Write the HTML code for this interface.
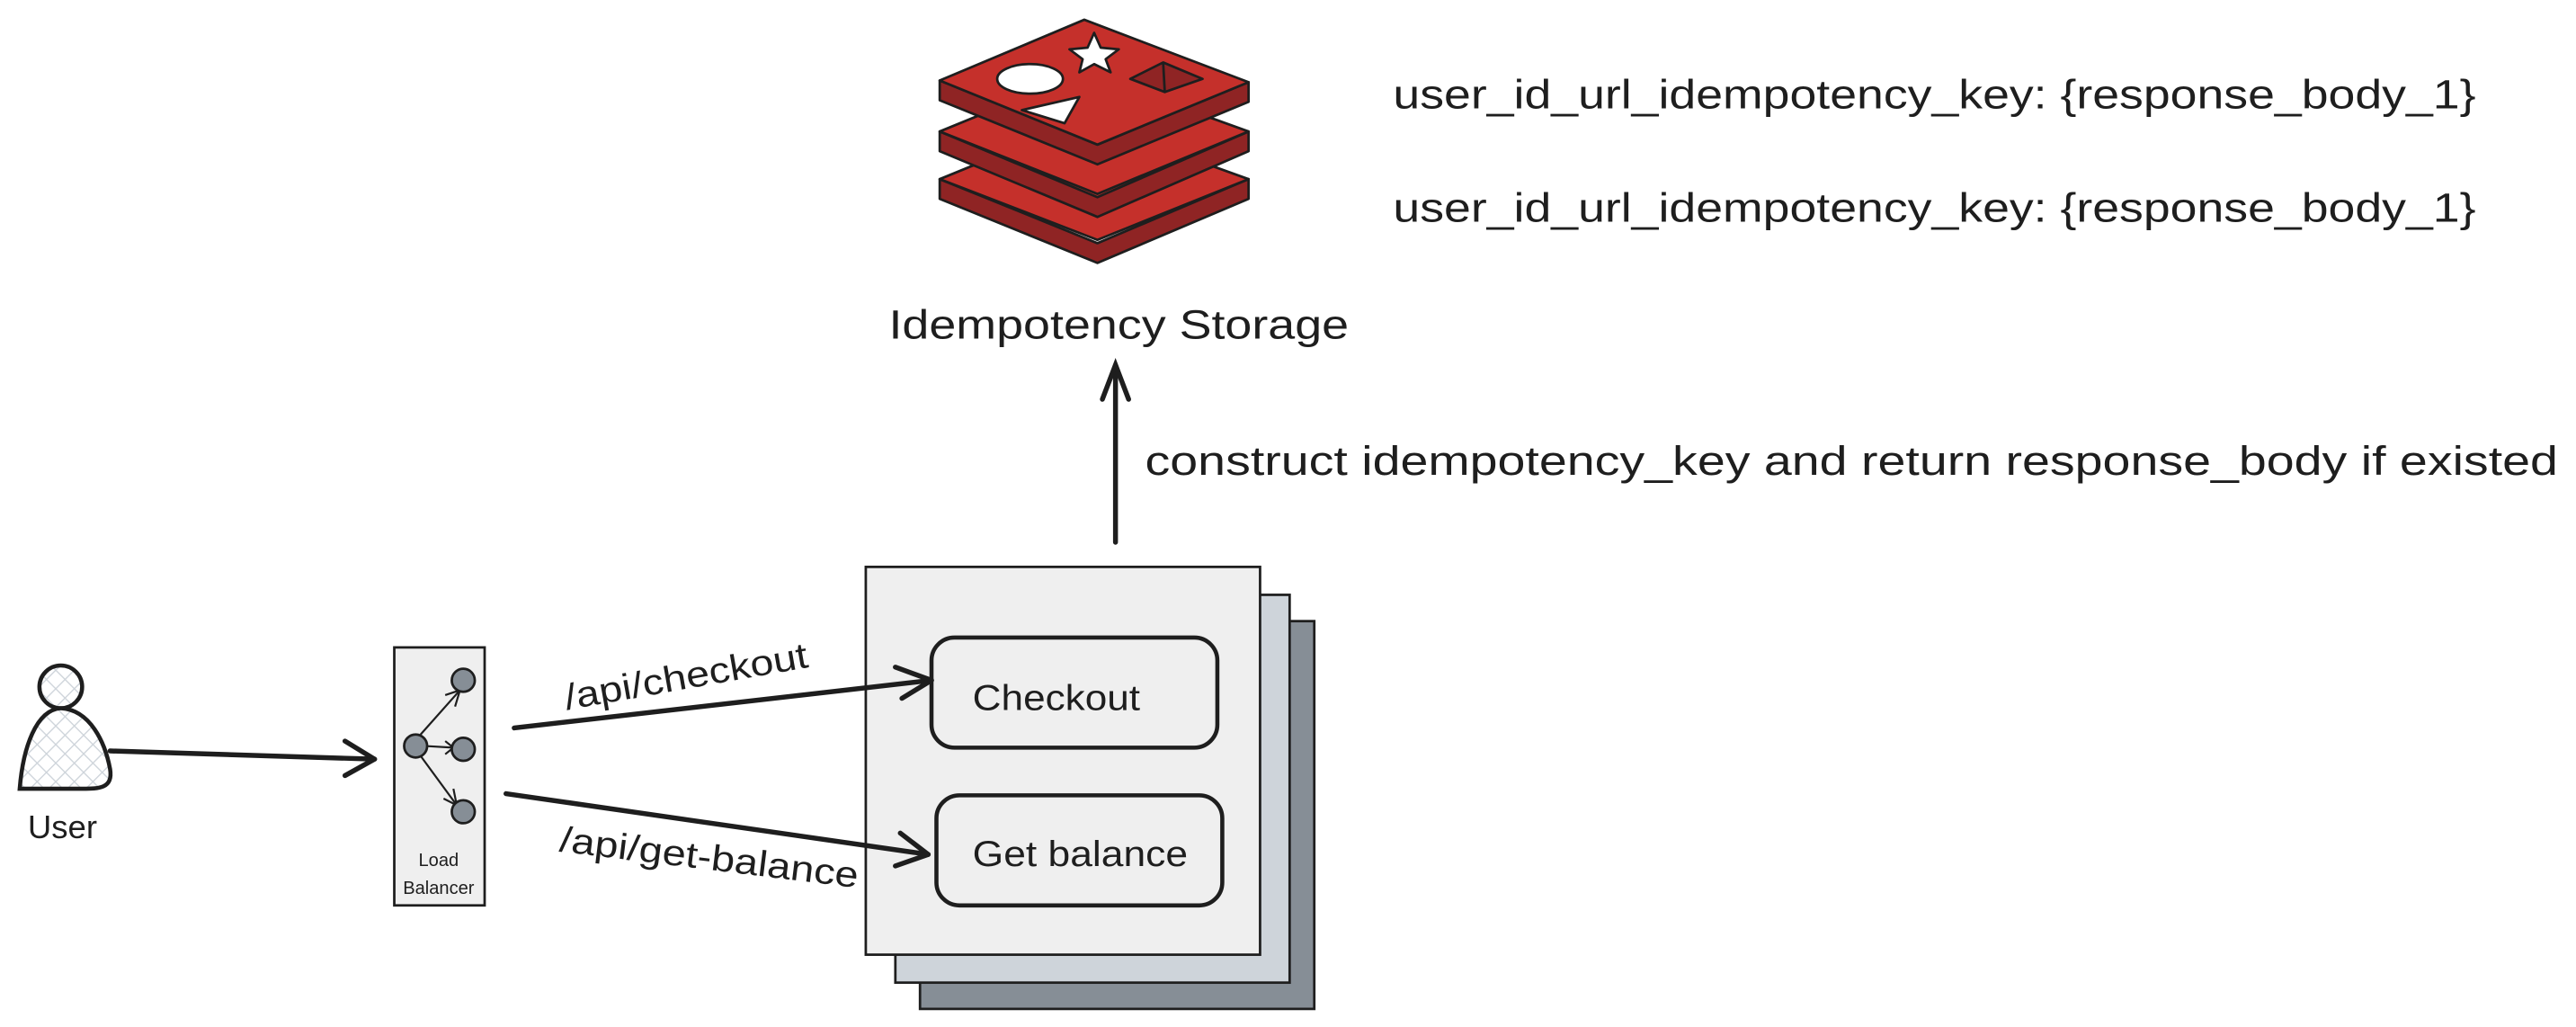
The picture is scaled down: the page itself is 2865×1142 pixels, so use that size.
<!DOCTYPE html>
<html><head><meta charset="utf-8"><style>
html,body{margin:0;padding:0;background:#fff;}
svg{display:block;}
text{font-family:"Liberation Sans",sans-serif;fill:#1e1e1e;}
</style></head><body>
<svg width="2865" height="1142" viewBox="0 0 1568 625" xmlns="http://www.w3.org/2000/svg">
<defs>
<pattern id="hatch" width="8" height="8" patternUnits="userSpaceOnUse" patternTransform="rotate(45)">
<rect width="8" height="8" fill="#fff"/>
<line x1="0" y1="0" x2="0" y2="8" stroke="#ced4da" stroke-width="1.5"/>
<line x1="0" y1="0" x2="8" y2="0" stroke="#ced4da" stroke-width="1.5"/>
</pattern>
</defs>

<g stroke="#1e1e1e" stroke-width="1.5" stroke-linejoin="round">
 <path d="M572 109 L572 121 L668 160 L760 121 L760 109 L668 148 Z" fill="#8f2424"/>
 <path d="M572 109 L660 73 L760 109 L668 146 Z" fill="#c5302b"/>
 <path d="M572 80 L572 92 L668 132 L760 92 L760 80 L668 120 Z" fill="#8f2424"/>
 <path d="M572 80 L660 44 L760 80 L668 118 Z" fill="#c5302b"/>
 <path d="M572 49 L572 61 L668 100 L760 62 L760 50 L668 88 Z" fill="#8f2424"/>
 <path d="M572 49 L660 12 L760 50 L668 88 Z" fill="#c5302b"/>
 <ellipse cx="627" cy="48" rx="20" ry="9" fill="#fff"/>
 <polygon points="666,20 670,29 681,30 673,36 676,44 666,39 657,44 659,36 651,30 662,29" fill="#fff"/>
 <polygon points="622,67 657,59 648,75" fill="#fff"/>
 <polygon points="688,48 708,38 732,48 709,56" fill="#8f2424"/>
 <line x1="708" y1="38" x2="709" y2="56"/>
</g>

<text x="681" y="206" font-size="25" text-anchor="middle" textLength="280" lengthAdjust="spacingAndGlyphs">Idempotency Storage</text>
<text x="848" y="66" font-size="25" textLength="659" lengthAdjust="spacingAndGlyphs">user_id_url_idempotency_key: {response_body_1}</text>
<text x="848" y="135" font-size="25" textLength="659" lengthAdjust="spacingAndGlyphs">user_id_url_idempotency_key: {response_body_1}</text>
<text x="697" y="289" font-size="25" textLength="860" lengthAdjust="spacingAndGlyphs">construct idempotency_key and return response_body if existed</text>

<g stroke="#1e1e1e" stroke-width="3" fill="none" stroke-linecap="round">
 <line x1="679" y1="330" x2="679" y2="223"/>
 <polyline points="671,243 679,222 687,243"/>
</g>

<g stroke="#1e1e1e" stroke-width="1.5">
 <rect x="560" y="378" width="240" height="236" fill="#868e96"/>
 <rect x="545" y="362" width="240" height="236" fill="#ced4da"/>
 <rect x="527" y="345" width="240" height="236" fill="#efefef"/>
</g>
<g stroke="#1e1e1e" stroke-width="2.5" fill="#efefef">
 <rect x="567" y="388" width="174" height="67" rx="14"/>
 <rect x="570" y="484" width="174" height="67" rx="14"/>
</g>
<text x="592" y="432" font-size="22" textLength="102" lengthAdjust="spacingAndGlyphs">Checkout</text>
<text x="592" y="527" font-size="22" textLength="131" lengthAdjust="spacingAndGlyphs">Get balance</text>

<g stroke="#1e1e1e" stroke-width="2.5">
 <circle cx="37" cy="418" r="13" fill="url(#hatch)"/>
 <path d="M18 480 L12 480 C14 455 22 432 37 431 C55 432 64 452 67 468 C69 480 60 480 50 480 Z" fill="url(#hatch)"/>
</g>
<text x="38" y="510" font-size="20" text-anchor="middle">User</text>

<rect x="240" y="394" width="55" height="157" fill="#efefef" stroke="#1e1e1e" stroke-width="1.5"/>
<g stroke="#1e1e1e" stroke-width="1.2" fill="none">
 <line x1="256" y1="447" x2="280" y2="420"/><polyline points="271,423 280,420 277,430"/>
 <line x1="259" y1="454" x2="276" y2="455"/><polyline points="271,451 276,455 271,459"/>
 <line x1="256" y1="460" x2="278" y2="490"/><polyline points="276,480 278,490 270,486"/>
</g>
<g stroke="#1e1e1e" stroke-width="1.5" fill="#868e96">
 <circle cx="282" cy="414" r="7"/>
 <circle cx="253" cy="454" r="7"/>
 <circle cx="282" cy="456" r="7"/>
 <circle cx="282" cy="494" r="7"/>
</g>
<text x="267" y="527" font-size="11" text-anchor="middle">Load</text>
<text x="267" y="544" font-size="11" text-anchor="middle">Balancer</text>

<g stroke="#1e1e1e" stroke-width="3" fill="none" stroke-linecap="round" stroke-linejoin="round">
 <line x1="67" y1="457" x2="228" y2="462"/>
 <polyline points="210,451 228,462 210,472"/>
 <line x1="313" y1="443" x2="567" y2="414"/>
 <polyline points="545,406 567,414 549,425"/>
 <line x1="308" y1="483" x2="565" y2="520"/>
 <polyline points="548,507 565,520 545,527"/>
</g>
<text x="0" y="0" font-size="22" transform="translate(345,432) rotate(-10)" textLength="150" lengthAdjust="spacingAndGlyphs">/api/checkout</text>
<text x="0" y="0" font-size="22" transform="translate(340,518) rotate(7)" textLength="183" lengthAdjust="spacingAndGlyphs">/api/get-balance</text>
</svg>
</body></html>
